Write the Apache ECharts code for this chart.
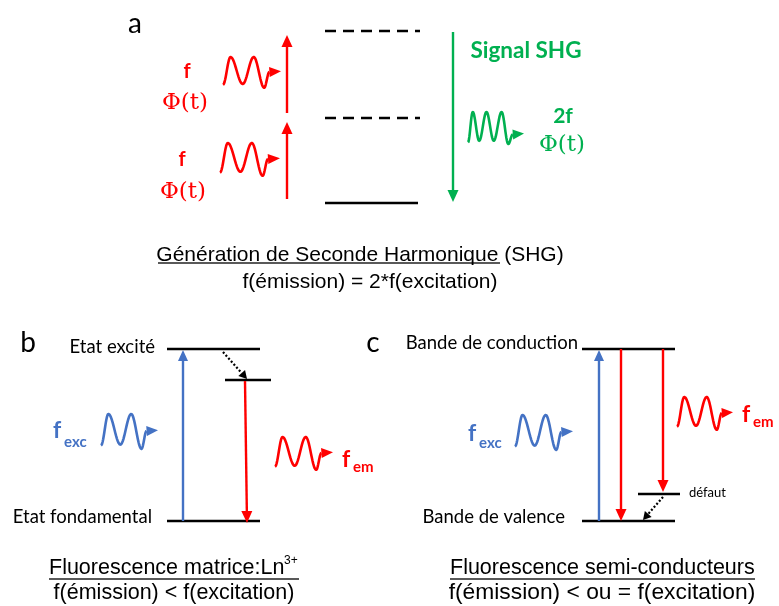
<!DOCTYPE html>
<html><head><meta charset="utf-8">
<script src="https://cdn.jsdelivr.net/npm/echarts@6/dist/echarts.min.js"></script>
<style>html,body{margin:0;padding:0;background:#fff}#c{width:779px;height:606px}</style>
</head><body><div id="c"></div>
<script>
// ---- Diagram data (canvas units) ----
// Energy levels: [xStart, xEnd, y]
const solidLevels = [[325,418,203],[167,260,349],[225,271,380],[167,260,521],[582,675,349],[582,675,521],[638,680,494]];
const dashedLevels = [[325,420,31],[325,420,118]];
// Transitions: [xFrom, yFrom, xTip, yTip]
const redTransitions = [[287,113,287,35],[287,199,287,122],[245,381,247,523],[621,349,621,521],[663,349,663,492]];
const blueTransitions = [[183,521,183,350],[599,521,599,350]];
const greenTransitions = [[453,32,453,202]];
const relaxations = [[223,352,247,379],[663,497,643,520]];
// Photons: [xStart, yCenter, width, amplitude]
const redPhotons = [[223,72,58,15],[220,159,60,16],[275,453,58,16],[677,413,56,16]];
const bluePhotons = [[101,431,57,17],[515,432,58,17]];
const greenPhotons = [[468,128,56,16]];
// Underlines: [xStart, xEnd, y]
const underlines = [[158,500,263],[49,299,579],[450,755,579]];
// Texts: [x, y, text]
const panelLetters = [[135,24,'a'],[28,343,'b'],[373,343,'c']];
const stateLabels = [[155,347,'Etat excité'],[152,517,'Etat fondamental'],[578,343,'Bande de conduction'],[565,517,'Bande de valence']];
const defectLabels = [[689,493,'défaut']];
const redF = [[187,72,'f'],[182,160,'f']];
const redPhi = [[185,103,'Φ(t)'],[183,192,'Φ(t)']];
const greenTitle = [[526,51,'Signal SHG']];
const green2f = [[563,116,'2f']];
const greenPhi = [[562,145,'Φ(t)']];
const blueF = [[53,431,'f'],[468,434,'f']];
const blueSub = [[64,442,'exc'],[479,443,'exc']];
const redEmF = [[342,460,'f'],[742,415,'f']];
const redEmSub = [[353,467,'em'],[753,422,'em']];
const captionA = [[360,255,'Génération de Seconde Harmonique (SHG)'],[370,282,'f(émission) = 2*f(excitation)']];
const captionBC = [[49,568,'Fluorescence matrice:Ln'],[450,568,'Fluorescence semi-conducteurs']];
const captionB2 = [[174,593,'f(émission) < f(excitation)']];
const captionC2 = [[602,593,'f(émission) < ou = f(excitation)']];
const superscripts = [[284,561,'3+']];

const RED = '#FF0000', BLUE = '#4472C4', GREEN = '#00B050';
const TWO_HUMP = {knots:[[0,-0.85],[0.13,1],[0.34,-0.8],[0.53,1],[0.71,-1.05],[0.8,0]], tip:[1,0.05]};
const THREE_HUMP = {knots:[[0,-0.9],[0.085,1],[0.2,-0.8],[0.33,1],[0.46,-0.8],[0.6,1],[0.72,-1],[0.8,-0.4]], tip:[1,-0.35]};

function segSeries(data, color, lw, dash) {
  return {type:'custom', data, silent:true, renderItem(params, api){
    const a = api.coord([api.value(0), api.value(2)]);
    const b = api.coord([api.value(1), api.value(2)]);
    return {type:'line', shape:{x1:a[0],y1:a[1],x2:b[0],y2:b[1]}, style:{stroke:color, lineWidth:lw, lineDash:dash||null}};
  }};
}
function arrowSeries(data, color, lw, headL, headW, dash) {
  return {type:'custom', data, silent:true, renderItem(params, api){
    const p0 = api.coord([api.value(0), api.value(1)]);
    const p1 = api.coord([api.value(2), api.value(3)]);
    const dx = p1[0]-p0[0], dy = p1[1]-p0[1], L = Math.hypot(dx,dy);
    const ux = dx/L, uy = dy/L, nx = -uy, ny = ux;
    const bx = p1[0]-ux*headL, by = p1[1]-uy*headL;
    return {type:'group', children:[
      {type:'line', shape:{x1:p0[0],y1:p0[1],x2:bx,y2:by}, style:{stroke:color, lineWidth:lw, lineDash:dash||null}},
      {type:'polygon', shape:{points:[[p1[0],p1[1]],[bx+nx*headW,by+ny*headW],[bx-nx*headW,by-ny*headW]]}, style:{fill:color}}
    ]};
  }};
}
function waveSeries(data, color, tpl) {
  return {type:'custom', data, silent:true, renderItem(params, api){
    const x0 = api.value(0), yc = api.value(1), w = api.value(2), amp = api.value(3);
    const P = (u,v) => api.coord([x0+u*w, yc-v*amp]);
    const k = tpl.knots, pts = [];
    for (let i=0;i<k.length-1;i++){
      const u0=k[i][0], v0=k[i][1], u1=k[i+1][0], v1=k[i+1][1];
      for (let j=(i?1:0);j<=14;j++){
        const t=j/14, s=(1-Math.cos(Math.PI*t))/2;
        pts.push(P(u0+(u1-u0)*t, v0+(v1-v0)*s));
      }
    }
    const tail = P(k[k.length-1][0], k[k.length-1][1]), tip = P(tpl.tip[0], tpl.tip[1]);
    const dx = tip[0]-tail[0], dy = tip[1]-tail[1], L = Math.hypot(dx,dy), nx = -dy/L, ny = dx/L, hw = 5;
    return {type:'group', children:[
      {type:'polyline', shape:{points:pts}, style:{stroke:color, lineWidth:2.6, fill:null, lineJoin:'round'}},
      {type:'polygon', shape:{points:[tip,[tail[0]+nx*hw,tail[1]+ny*hw],[tail[0]-nx*hw,tail[1]-ny*hw]]}, style:{fill:color}}
    ]};
  }};
}
function textSeries(items, style) {
  return {type:'custom', silent:true, data: items.map(d=>[d[0],d[1]]), renderItem(params, api){
    const p = api.coord([api.value(0), api.value(1)]);
    return {type:'text', x:p[0], y:p[1], style:Object.assign({text: items[params.dataIndex][2], verticalAlign:'middle'}, style)};
  }};
}

const chart = echarts.init(document.getElementById('c'));
chart.setOption({
  animation:false,
  backgroundColor:'#fff',
  grid:{left:0,right:0,top:0,bottom:0},
  xAxis:{type:'value',min:0,max:779,show:false},
  yAxis:{type:'value',min:0,max:606,inverse:true,show:false},
  series:[
    segSeries(solidLevels,'#000',2.6),
    segSeries(dashedLevels,'#000',2.5,[11,7]),
    segSeries(underlines,'#222',1.3),
    arrowSeries(redTransitions,RED,2.4,12,5.5),
    arrowSeries(blueTransitions,BLUE,2.4,11,5),
    arrowSeries(greenTransitions,GREEN,2.4,12,5.5),
    arrowSeries(relaxations,'#000',2.2,8,4.5,[2,2]),
    waveSeries(redPhotons,RED,TWO_HUMP),
    waveSeries(bluePhotons,BLUE,TWO_HUMP),
    waveSeries(greenPhotons,GREEN,THREE_HUMP),
    textSeries(panelLetters,{fill:'#000',fontFamily:'Lato',fontSize:28,align:'center'}),
    textSeries(stateLabels,{fill:'#000',fontFamily:'Lato',fontSize:18.5,align:'right'}),
    textSeries(defectLabels,{fill:'#000',fontFamily:'Lato',fontSize:13,align:'left'}),
    textSeries(redF,{fill:RED,fontFamily:'Lato',fontWeight:'bold',fontSize:20,align:'center'}),
    textSeries(redPhi,{fill:RED,fontFamily:'DejaVu Serif',fontSize:23,align:'center'}),
    textSeries(greenTitle,{fill:GREEN,fontFamily:'Lato',fontWeight:'bold',fontSize:22.5,align:'center'}),
    textSeries(green2f,{fill:GREEN,fontFamily:'Lato',fontWeight:'bold',fontSize:21,align:'center'}),
    textSeries(greenPhi,{fill:GREEN,fontFamily:'DejaVu Serif',fontSize:23,align:'center'}),
    textSeries(blueF,{fill:BLUE,fontFamily:'Lato',fontWeight:'bold',fontSize:23,align:'left'}),
    textSeries(blueSub,{fill:BLUE,fontFamily:'Lato',fontWeight:'bold',fontSize:15,align:'left'}),
    textSeries(redEmF,{fill:RED,fontFamily:'Lato',fontWeight:'bold',fontSize:23,align:'left'}),
    textSeries(redEmSub,{fill:RED,fontFamily:'Lato',fontWeight:'bold',fontSize:15,align:'left'}),
    textSeries(captionA,{fill:'#000',fontFamily:'Liberation Sans',fontSize:21,align:'center'}),
    textSeries(captionBC,{fill:'#000',fontFamily:'Liberation Sans',fontSize:21.5,align:'left'}),
    textSeries(captionB2,{fill:'#000',fontFamily:'Liberation Sans',fontSize:21.5,align:'center'}),
    textSeries(captionC2,{fill:'#000',fontFamily:'Liberation Sans',fontSize:22.8,align:'center'}),
    textSeries(superscripts,{fill:'#000',fontFamily:'Liberation Sans',fontSize:12,align:'left'})
  ]
});
</script></body></html>
